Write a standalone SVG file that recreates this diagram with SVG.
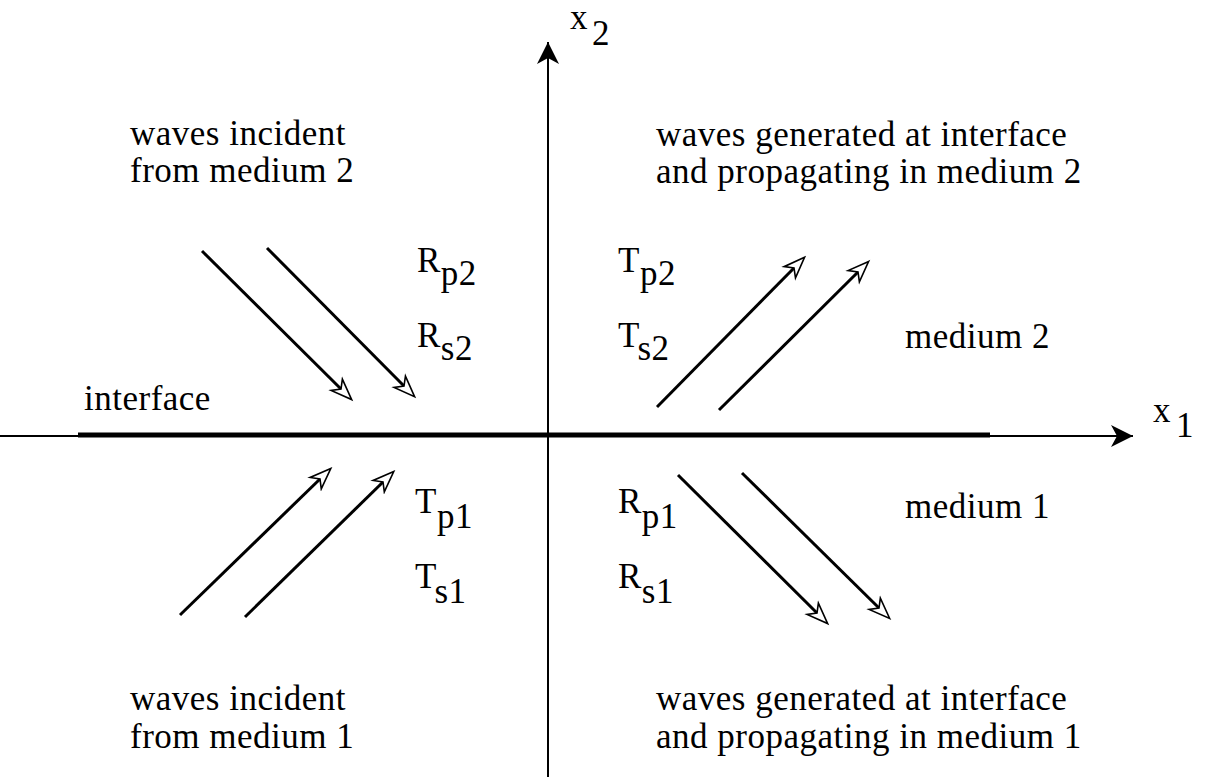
<svg xmlns="http://www.w3.org/2000/svg" width="1205" height="777" viewBox="0 0 1205 777">
<style>
text{font-family:"Liberation Serif","Times New Roman",serif;font-size:35px;fill:#000;letter-spacing:0.5px}
.ax{stroke:#000;stroke-width:2;fill:none}
.iface{stroke:#000;stroke-width:5;fill:none}
.w{stroke:#000;stroke-width:3;fill:none}
</style>
<defs>
<marker id="open" viewBox="-8 -10 26 20" refX="0" refY="0" markerWidth="26" markerHeight="20" markerUnits="userSpaceOnUse" orient="auto">
<path d="M15,0 L-6,-8 L0,0 L-6,8 Z" fill="#fff" stroke="#000" stroke-width="1.6" stroke-linejoin="miter"/>
</marker>
<marker id="solid" viewBox="-24 -12 26 24" refX="0" refY="0" markerWidth="26" markerHeight="24" markerUnits="userSpaceOnUse" orient="auto">
<path d="M0,0 L-22,-11 L-16,0 L-22,11 Z" fill="#000"/>
</marker>
</defs>
<rect width="1205" height="777" fill="#fff"/>
<g id="axes">
<line class="ax" x1="0" y1="436" x2="1133" y2="436" marker-end="url(#solid)"/>
<line class="iface" x1="78" y1="435" x2="990" y2="435"/>
<line class="ax" x1="548" y1="777" x2="548" y2="42" marker-end="url(#solid)"/>
</g>
<g id="connectors">
<line class="w" x1="202" y1="251" x2="341" y2="389" marker-end="url(#open)"/>
<line class="w" x1="267" y1="248" x2="404" y2="386" marker-end="url(#open)"/>
<line class="w" x1="657" y1="407" x2="794" y2="268" marker-end="url(#open)"/>
<line class="w" x1="719" y1="410" x2="858" y2="272" marker-end="url(#open)"/>
<line class="w" x1="180" y1="615" x2="320" y2="479" marker-end="url(#open)"/>
<line class="w" x1="245" y1="617" x2="383" y2="482" marker-end="url(#open)"/>
<line class="w" x1="678" y1="475" x2="817" y2="613" marker-end="url(#open)"/>
<line class="w" x1="742" y1="473" x2="879" y2="608" marker-end="url(#open)"/>
</g>
<g id="axis-labels">
<text x="570" y="29">x<tspan x="592" y="45">2</tspan></text>
<text x="1153" y="422">x<tspan x="1176" y="437">1</tspan></text>
</g>
<g id="region-labels">
<text x="130" y="145">waves incident</text>
<text x="130" y="182">from medium 2</text>
<text x="656" y="146">waves generated at interface</text>
<text x="656" y="183">and propagating in medium 2</text>
<text x="84" y="410">interface</text>
<text x="905" y="348">medium 2</text>
<text x="905" y="518">medium 1</text>
<text x="130" y="710">waves incident</text>
<text x="130" y="748">from medium 1</text>
<text x="656" y="710">waves generated at interface</text>
<text x="656" y="748">and propagating in medium 1</text>
</g>
<g id="coefficients">
<text x="417" y="272">R<tspan dy="13">p2</tspan></text>
<text x="417" y="347">R<tspan dy="13">s2</tspan></text>
<text x="618" y="272">T<tspan dy="13">p2</tspan></text>
<text x="618" y="347">T<tspan dy="13">s2</tspan></text>
<text x="415" y="513">T<tspan dy="15">p1</tspan></text>
<text x="415" y="588">T<tspan dy="15">s1</tspan></text>
<text x="618" y="513">R<tspan dy="15">p1</tspan></text>
<text x="618" y="588">R<tspan dy="15">s1</tspan></text>
</g>
</svg>
